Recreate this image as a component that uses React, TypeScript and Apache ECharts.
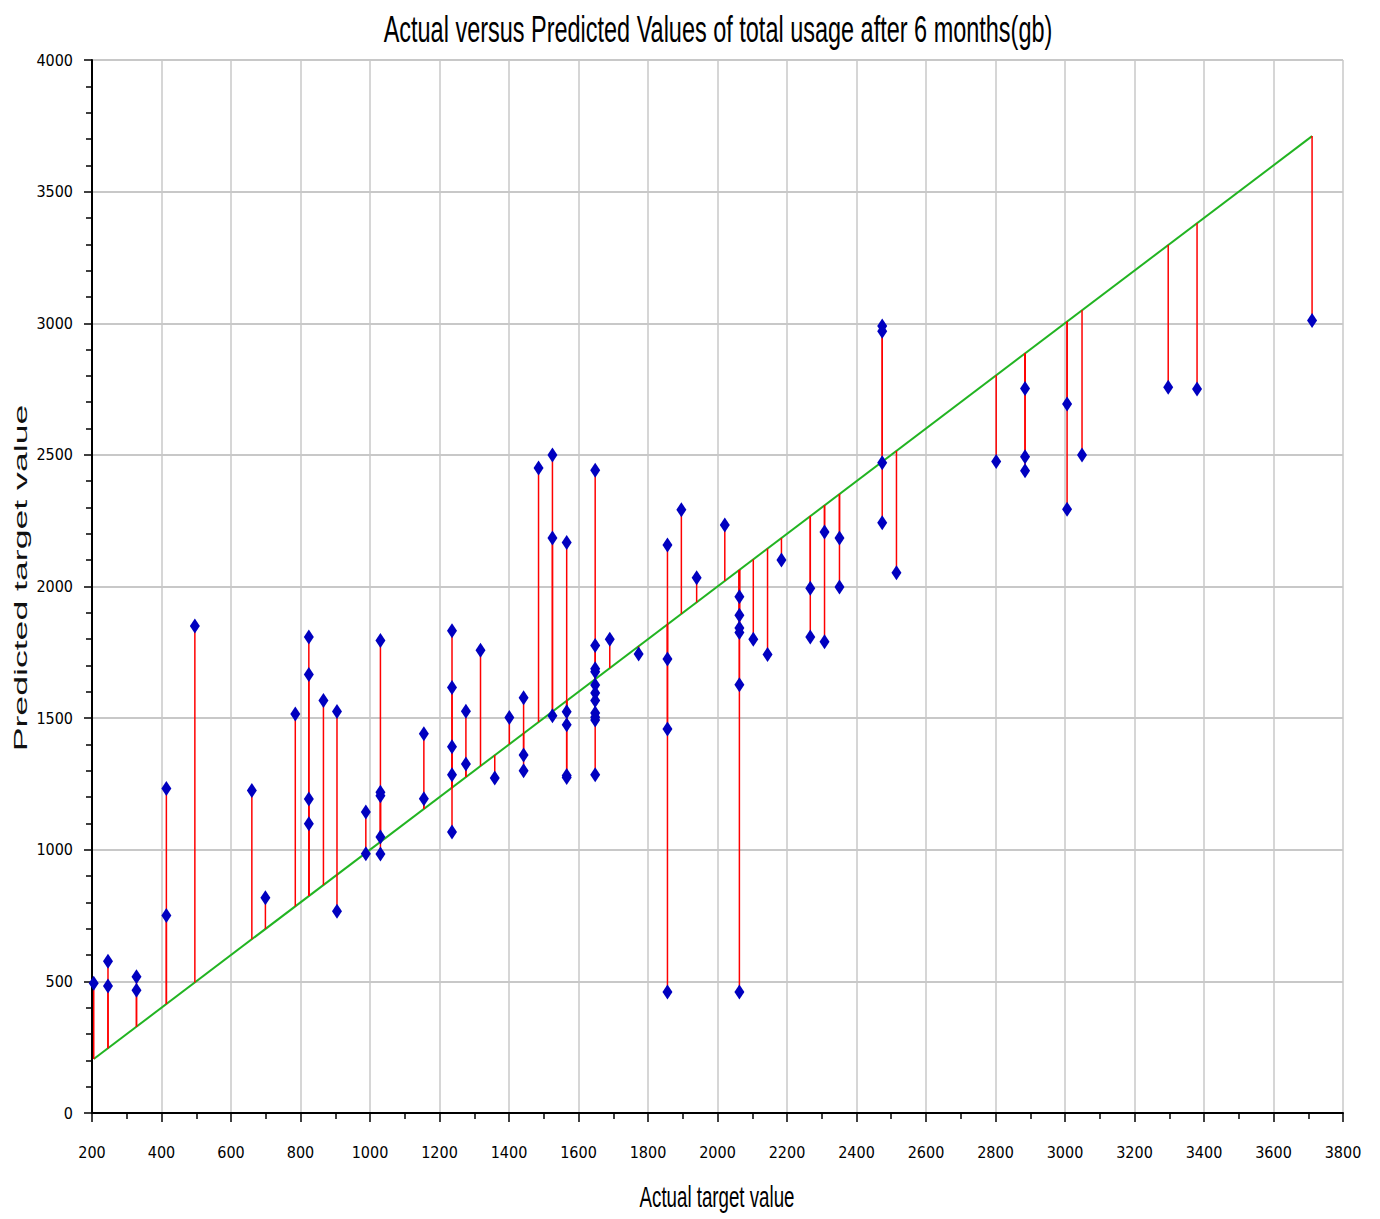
import React, { useEffect, useRef } from 'react';
import * as echarts from 'echarts';

const titleText = 'Actual versus Predicted Values of total usage after 6 months(gb)';
const xAxisTitle = 'Actual target value';
const yAxisTitle = 'Predicted target value';

// Actual target values (x) and the predicted values observed at each of them (y)
const actualValues = [
  205, 246, 328, 414, 496, 660, 699, 785, 824, 866, 905, 988, 1030, 1155, 1236, 1276,
  1318, 1359, 1401, 1442, 1485, 1525, 1566, 1648, 1690, 1773, 1856, 1896, 1940, 2021,
  2063, 2103, 2144, 2184, 2267, 2308, 2351, 2474, 2515, 2802, 2885, 3006, 3049, 3297,
  3380, 3711,
];
const predictedGroups = [
  [493], [576, 482], [518, 466], [1233, 750], [1850], [1225], [818], [1516],
  [1808, 1666, 1193, 1099], [1567], [1525, 766], [1143, 985],
  [1795, 1218, 1205, 1048, 984], [1441, 1194], [1832, 1616, 1391, 1285, 1067],
  [1526, 1326], [1758], [1273], [1502], [1577, 1360, 1300], [2450],
  [2500, 2184, 1509], [2167, 1524, 1475, 1282, 1274],
  [2442, 1776, 1688, 1676, 1626, 1595, 1567, 1519, 1503, 1493, 1285],
  [1800], [1744], [2158, 1725, 1459, 460], [2292], [2033], [2234],
  [1961, 1891, 1842, 1825, 1627, 460], [1800], [1742], [2101], [1993, 1808],
  [2207, 1790], [2184, 1998], [2990, 2970, 2470, 2242], [2052], [2475],
  [2752, 2493, 2440], [2693, 2293], [2500], [2757], [2750], [3010],
];

const xMin = 200;
const xMax = 3800;
const xInterval = 200;
const yMin = 0;
const yMax = 4000;
const yInterval = 500;

const narrowFont = "'Liberation Sans Narrow', 'Arial Narrow', 'DejaVu Sans Condensed', 'Liberation Sans', sans-serif";
const sansFont = "'Liberation Sans', Arial, sans-serif";

export default function App() {
  const ref = useRef<HTMLDivElement>(null);

  useEffect(() => {
    if (!ref.current) return;
    const chart = echarts.init(ref.current, null, { renderer: 'svg' });

    const points: number[][] = [];
    actualValues.forEach((a, i) => {
      predictedGroups[i].forEach((p) => points.push([a, p]));
    });
    const lo = Math.min(...actualValues);
    const hi = Math.max(...actualValues);
    const diagonal = [[lo, lo], [hi, hi]];

    const option: any = {
      animation: false,
      backgroundColor: '#ffffff',
      grid: { left: 92, right: 37, top: 60, bottom: 106, containLabel: false },
      graphic: [
        {
          type: 'text',
          x: 718,
          y: 29,
          scaleX: 0.652,
          scaleY: 1.05,
          style: {
            text: titleText,
            font: `36px ${sansFont}`,
            fill: '#000',
            textAlign: 'center',
            textVerticalAlign: 'middle',
          },
        },
        {
          type: 'text',
          x: 717,
          y: 1197,
          scaleX: 0.645,
          style: {
            text: xAxisTitle,
            font: `29px ${sansFont}`,
            fill: '#000',
            textAlign: 'center',
            textVerticalAlign: 'middle',
          },
        },
        {
          type: 'text',
          x: 21,
          y: 578,
          rotation: Math.PI / 2,
          scaleX: 1.62,
          scaleY: 0.82,
          style: {
            text: yAxisTitle,
            font: `22px ${sansFont}`,
            fill: '#111',
            textAlign: 'center',
            textVerticalAlign: 'middle',
          },
        },
      ],
      xAxis: {
        type: 'value',
        min: xMin,
        max: xMax,
        interval: xInterval,
        axisLine: { show: true, onZero: false, lineStyle: { color: '#000', width: 2 } },
        axisTick: { show: true, inside: false, length: 9, lineStyle: { color: '#000', width: 1.5 } },
        minorTick: { show: true, splitNumber: 2, length: 6, lineStyle: { color: '#000', width: 1.5 } },
        axisLabel: {
          color: '#000',
          fontSize: 16,
          fontFamily: narrowFont,
          margin: 31,
          formatter: (v: number) => String(v),
        },
        splitLine: { show: true, lineStyle: { color: '#c8c8c8', width: 1.5 } },
      },
      yAxis: {
        type: 'value',
        min: yMin,
        max: yMax,
        interval: yInterval,
        axisLine: { show: true, onZero: false, lineStyle: { color: '#000', width: 2 } },
        axisTick: { show: true, inside: false, length: 8, lineStyle: { color: '#000', width: 1.5 } },
        minorTick: { show: true, splitNumber: 5, length: 6, lineStyle: { color: '#000', width: 1.5 } },
        axisLabel: {
          color: '#000',
          fontSize: 16,
          fontFamily: narrowFont,
          margin: 19,
          formatter: (v: number) => String(v),
        },
        splitLine: { show: true, lineStyle: { color: '#c8c8c8', width: 2 } },
      },
      series: [
        {
          type: 'line',
          data: diagonal,
          symbol: 'none',
          lineStyle: { color: '#22b422', width: 2 },
          z: 2,
        },
        {
          type: 'custom',
          data: points,
          z: 3,
          renderItem: (params: any, api: any) => {
            const a = api.value(0);
            const p = api.value(1);
            const s = api.coord([a, p]);
            const e = api.coord([a, a]);
            return {
              type: 'line',
              shape: { x1: s[0], y1: s[1], x2: e[0], y2: e[1] },
              style: { stroke: '#ff0000', lineWidth: 1.5 },
            };
          },
        },
        {
          type: 'scatter',
          data: points,
          symbol: 'diamond',
          symbolSize: [10, 15],
          itemStyle: { color: '#0000c0', opacity: 1 },
          z: 4,
        },
      ],
    };

    chart.setOption(option);
    return () => chart.dispose();
  }, []);

  return (
    <div
      ref={ref}
      style={{ position: 'absolute', left: 0, top: 0, width: 1380, height: 1219, background: '#fff' }}
    />
  );
}
